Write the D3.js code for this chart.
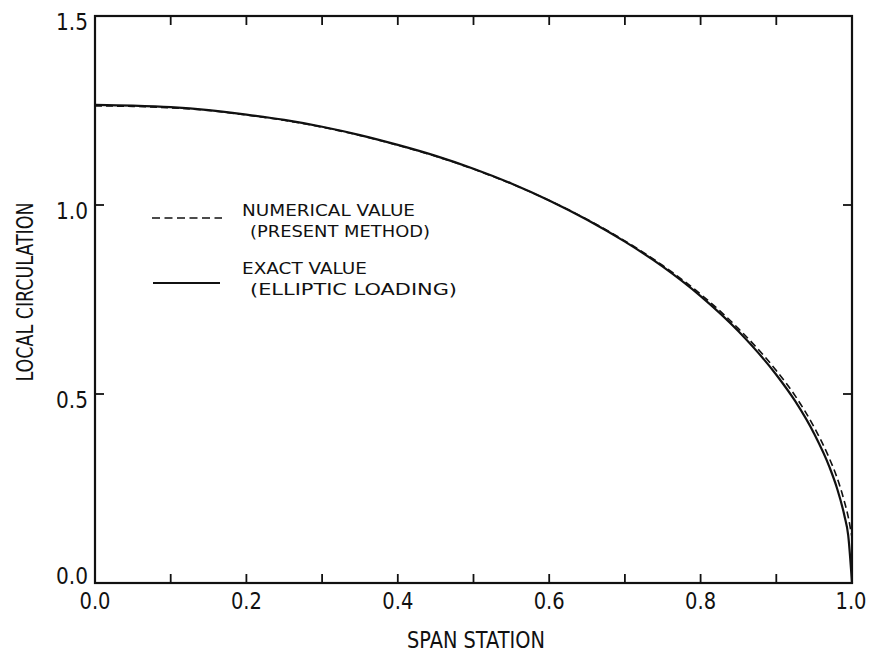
<!DOCTYPE html>
<html>
<head>
<meta charset="utf-8">
<script src="https://cdn.jsdelivr.net/npm/d3@7"></script>
<style>
  html, body { margin: 0; padding: 0; background: #fff; }
  svg text { font-family: "DejaVu Sans", sans-serif; fill: #111; }
  svg text.tick { font-stretch: condensed; }
</style>
</head>
<body>
<svg id="chart" width="872" height="655"></svg>
<script>
// Span stations (fraction of semi-span)
const spanStation = [0, 0.05, 0.1, 0.15, 0.2, 0.25, 0.3, 0.35, 0.4, 0.45, 0.5, 0.55, 0.6,
  0.65, 0.7, 0.75, 0.8, 0.85, 0.9, 0.925, 0.95, 0.97, 0.98, 0.99, 0.995, 1.0];
// Exact value (elliptic loading)
const exactValue = [1.265, 1.263, 1.259, 1.251, 1.239, 1.225, 1.207, 1.185, 1.159, 1.130,
  1.096, 1.057, 1.012, 0.961, 0.903, 0.837, 0.759, 0.666, 0.551, 0.481, 0.395, 0.308,
  0.252, 0.178, 0.126, 0.0];
// Numerical value (present method)
const numericalValue = [1.262, 1.261, 1.257, 1.250, 1.238, 1.224, 1.206, 1.184, 1.158, 1.129,
  1.095, 1.056, 1.012, 0.962, 0.905, 0.840, 0.764, 0.673, 0.562, 0.495, 0.412, 0.330,
  0.280, 0.215, 0.175, 0.12];

const xTickLabels = [0, 0.2, 0.4, 0.6, 0.8, 1.0];
const xMinorTicks = [0.1, 0.3, 0.5, 0.7, 0.9];
const yTickLabels = [0, 0.5, 1.0, 1.5];

const svg = d3.select("#chart");
const plotLeft = 95, plotRight = 852, plotTop = 16, plotBottom = 583;

const x = d3.scaleLinear().domain([0, 1]).range([plotLeft, plotRight]);
const y = d3.scaleLinear().domain([0, 1.5]).range([plotBottom, plotTop]);

// Frame
svg.append("rect")
  .attr("x", plotLeft).attr("y", plotTop)
  .attr("width", plotRight - plotLeft).attr("height", plotBottom - plotTop)
  .attr("fill", "none").attr("stroke", "#111").attr("stroke-width", 2.2);

// Inward ticks on all four sides
const tickLen = 9;
const allX = xTickLabels.concat(xMinorTicks).filter(v => v > 0 && v < 1);
allX.forEach(v => {
  svg.append("line").attr("x1", x(v)).attr("x2", x(v))
    .attr("y1", plotBottom).attr("y2", plotBottom - tickLen)
    .attr("stroke", "#111").attr("stroke-width", 1.8);
  svg.append("line").attr("x1", x(v)).attr("x2", x(v))
    .attr("y1", plotTop).attr("y2", plotTop + tickLen)
    .attr("stroke", "#111").attr("stroke-width", 1.8);
});
yTickLabels.filter(v => v > 0 && v < 1.5).forEach(v => {
  svg.append("line").attr("x1", plotLeft).attr("x2", plotLeft + tickLen)
    .attr("y1", y(v)).attr("y2", y(v))
    .attr("stroke", "#111").attr("stroke-width", 1.8);
  svg.append("line").attr("x1", plotRight).attr("x2", plotRight - tickLen)
    .attr("y1", y(v)).attr("y2", y(v))
    .attr("stroke", "#111").attr("stroke-width", 1.8);
});

// Narrow lettering: fixed widths per label
function lettered(sel, width) {
  return sel.attr("textLength", width).attr("lengthAdjust", "spacingAndGlyphs");
}

// Tick labels
svg.append("g").selectAll("text").data(xTickLabels).join("text")
  .attr("class", "tick")
  .attr("x", d => x(d) - (d === 1 ? 1 : 0)).attr("y", 609)
  .attr("text-anchor", "middle").attr("font-size", 23.5)
  .call(lettered, 31)
  .text(d => d3.format(".1f")(d));

svg.append("g").selectAll("text").data(yTickLabels).join("text")
  .attr("class", "tick")
  .attr("x", plotLeft - 7)
  .attr("y", d => y(d) + (d === 0 ? -7 : 6))
  .attr("dy", "0.35em")
  .attr("text-anchor", "end").attr("font-size", 23.5)
  .call(lettered, 32)
  .text(d => d3.format(".1f")(d));

// Axis titles
svg.append("text").attr("x", 476).attr("y", 648)
  .attr("text-anchor", "middle").attr("font-size", 23)
  .call(lettered, 138)
  .text("SPAN STATION");
svg.append("text")
  .attr("transform", "translate(33,292) rotate(-90)")
  .attr("text-anchor", "middle").attr("font-size", 23)
  .call(lettered, 179)
  .text("LOCAL CIRCULATION");

// Curves
const line = d3.line()
  .x((d, i) => x(spanStation[i]))
  .y(d => y(d))
  .curve(d3.curveMonotoneX);

svg.append("path").datum(exactValue)
  .attr("d", line).attr("fill", "none")
  .attr("stroke", "#111").attr("stroke-width", 2.2);
svg.append("path").datum(numericalValue)
  .attr("d", line).attr("fill", "none")
  .attr("stroke", "#111").attr("stroke-width", 1.6)
  .attr("stroke-dasharray", "7,4");

// Legend
const lg = svg.append("g");
lg.append("line").attr("x1", 152).attr("x2", 222).attr("y1", 218).attr("y2", 218)
  .attr("stroke", "#111").attr("stroke-width", 1.6).attr("stroke-dasharray", "8,4.5");
lg.append("text").attr("x", 242).attr("y", 216).attr("font-size", 16)
  .call(lettered, 173).text("NUMERICAL VALUE");
lg.append("text").attr("x", 250).attr("y", 237).attr("font-size", 16)
  .call(lettered, 180).text("(PRESENT METHOD)");
lg.append("line").attr("x1", 153).attr("x2", 220).attr("y1", 283).attr("y2", 283)
  .attr("stroke", "#111").attr("stroke-width", 1.8);
lg.append("text").attr("x", 242).attr("y", 274).attr("font-size", 16)
  .call(lettered, 125).text("EXACT VALUE");
lg.append("text").attr("x", 250).attr("y", 295).attr("font-size", 16)
  .call(lettered, 207).text("(ELLIPTIC LOADING)");
</script>
</body>
</html>
